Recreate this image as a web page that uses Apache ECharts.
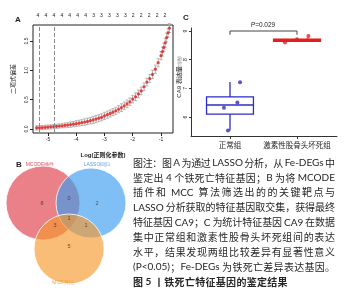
<!DOCTYPE html>
<html>
<head>
<meta charset="utf-8">
<script src="https://cdn.jsdelivr.net/npm/echarts@6/dist/echarts.min.js"></script>
<style>
html,body{margin:0;padding:0;background:#fff}
#main{width:360px;height:300px}
</style>
</head>
<body>
<div id="main"></div>
<script>
// ---- A: LASSO curve ----
var logLambda = [-5.4,-5.3,-5.2,-5.1,-5.0,-4.9,-4.8,-4.7,-4.6,-4.5,
  -4.4,-4.3,-4.2,-4.1,-4.0,-3.9,-3.8,-3.7,-3.6,-3.5,
  -3.4,-3.3,-3.2,-3.1,-3.0,-2.9,-2.8,-2.7,-2.6,-2.5,
  -2.4,-2.3,-2.2,-2.1,-2.0,-1.9,-1.8,-1.7,-1.6,-1.5,
  -1.4,-1.3,-1.2,-1.1,-1.0,-0.95,-0.9,-0.85,-0.8,-0.75,-0.7];
var deviance = [0.020,0.022,0.025,0.029,0.033,0.037,0.041,0.046,0.051,0.056,
  0.062,0.068,0.075,0.083,0.091,0.100,0.109,0.119,0.130,0.142,
  0.155,0.169,0.184,0.200,0.225,0.245,0.265,0.287,0.311,0.337,
  0.365,0.395,0.428,0.464,0.510,0.550,0.598,0.650,0.720,0.800,
  0.860,0.930,1.020,1.130,1.250,1.320,1.390,1.470,1.560,1.640,1.720];
var devianceErr = [0.035,0.035,0.035,0.035,0.035,0.035,0.035,0.035,0.035,0.035,
  0.040,0.040,0.045,0.045,0.050,0.050,0.050,0.055,0.055,0.055,
  0.060,0.060,0.060,0.060,0.060,0.060,0.060,0.060,0.060,0.060,
  0.065,0.065,0.065,0.065,0.065,0.065,0.065,0.065,0.065,0.065,
  0.070,0.070,0.070,0.070,0.070,0.075,0.075,0.075,0.075,0.075,0.075];
var lambdaMarks = [-5.32, -4.79];
var topCounts = ['4','4','4','4','4','4','4','3','3','3','3','3','2','2','2','2','2'];
var xTicksA = [-5, -4, -3, -2, -1];
var yTicksA = [0, 0.5, 1, 1.5];

// ---- C: CA9 expression ----
var groups = ['正常组', '激素性股骨头坏死组'];
var normalValues = [7.21, 6.51, 6.32, 5.53];
var normalJitter = [0.15, 0.11, -0.09, -0.03];
var gcValues = [8.60, 8.71, 8.69, 8.83];
var gcJitter = [-0.18, 0.0, 0.16, 0.17];
var boxStats = [[5.53, 6.10, 6.42, 6.70, 7.22], [8.62, 8.64, 8.68, 8.72, 8.74]];
var yTicksC = [6, 7, 8, 9];
var bracketY = [8.87, 9.0];
var pLabel = '0.029';

// ---- B: Venn ----
var vennSets = ['MCODE插件', 'LASSO回归', 'MCC算法'];
// red only, red&blue, blue only, all three, red&orange, blue&orange, orange only
var vennCounts = [8, 0, 2, 1, 3, 1, 5];

var captionLines = [
  '图注：图 A 为通过 LASSO 分析，从 Fe-DEGs 中',
  '鉴定出 4 个铁死亡特征基因；B 为将 MCODE',
  '插件和 MCC 算法筛选出的的关键靶点与',
  'LASSO 分析获取的特征基因取交集，获得最终',
  '特征基因 CA9；C 为统计特征基因 CA9 在数据',
  '集中正常组和激素性股骨头坏死组间的表达',
  '水平，结果发现两组比较差异有显著性意义',
  '(P<0.05)；Fe-DEGs 为铁死亡差异表达基因。'
];
var captionTitle = '图 5 丨铁死亡特征基因的鉴定结果';

// layout
var vennCircles = [[43, 53, 37], [91, 53, 35], [69, 99, 35]];
var vennFill = ['rgba(223,60,72,0.65)', 'rgba(60,157,240,0.65)', 'rgba(246,154,48,0.65)'];
var vennText = ['#d9535f', '#5a9fe0', '#e8a040'];
var vennCountPos = [[42, 53], [69, 48], [97, 53], [69, 68], [55, 75], [86, 75], [69, 96]];
var boxColors = ['#2d2dc4', '#e21f1f'];
var captionLeft = 133, captionRight = 335;

var measure = document.createElement('canvas').getContext('2d');
var latinRe = /^[A-Za-z0-9.\-()<=]+$/;
function captionRow(text, y, justify, bold) {
  var toks = text.match(/[A-Za-z0-9.\-()<=]+|\s+|[^\sA-Za-z0-9.\-()<=]/g);
  var weight = bold ? 'bold' : 'normal';
  var items = toks.map(function (t) {
    if (/^\s+$/.test(t)) return { space: true, w: 2 };
    var fam = latinRe.test(t) ? 'Lato' : 'Noto Sans CJK SC';
    measure.font = weight + ' 10px "' + fam + '"';
    return { text: t, fam: fam, w: measure.measureText(t).width };
  });
  var total = 0;
  items.forEach(function (it) { total += it.w; });
  var gap = justify ? (captionRight - captionLeft - total) / (items.length - 1) : 0.3;
  var x = captionLeft, els = [];
  items.forEach(function (it) {
    if (!it.space) {
      els.push({ type: 'text', x: x, y: y, silent: true,
        style: { text: it.text, fontSize: 10, fontFamily: it.fam, fontWeight: weight,
          fill: '#262626', verticalAlign: 'middle' } });
    }
    x += it.w + gap;
  });
  return els;
}

var graphics = [
  { type: 'text', x: 15, y: 20, style: { text: 'A', fontSize: 8, fontWeight: 'bold', fill: '#222', verticalAlign: 'middle' } },
  { type: 'text', x: 16, y: 165, style: { text: 'B', fontSize: 8, fontWeight: 'bold', fill: '#222', verticalAlign: 'middle' } },
  { type: 'text', x: 183, y: 18, style: { text: 'C', fontSize: 8, fontWeight: 'bold', fill: '#222', verticalAlign: 'middle' } },
  { type: 'text', x: 263, y: 25.5, style: { rich: { i: { fontStyle: 'italic', fontSize: 6.5, fill: '#222' }, n: { fontSize: 6.5, fill: '#222' } },
      text: '{i|P}{n|=' + pLabel + '}', align: 'center', verticalAlign: 'middle' } },
  { type: 'text', x: 179, y: 68, rotation: -Math.PI / 2, style: { text: '偏似然偏差', fontSize: 5, fill: '#999', align: 'center', verticalAlign: 'middle' } },
  { type: 'text', x: 40, y: 165, style: { text: vennSets[0], fontSize: 5, fill: vennText[0], align: 'center', verticalAlign: 'middle' } },
  { type: 'text', x: 97, y: 165, style: { text: vennSets[1], fontSize: 5, fill: vennText[1], align: 'center', verticalAlign: 'middle' } },
  { type: 'text', x: 63, y: 283, style: { text: vennSets[2], fontSize: 5, fill: vennText[2], align: 'center', verticalAlign: 'middle' } }
];
for (var i = 0; i < captionLines.length; i++) {
  graphics = graphics.concat(captionRow(captionLines[i], 163 + i * 14.85, i < captionLines.length - 1, false));
}
graphics = graphics.concat(captionRow(captionTitle, 163 + 8 * 14.85, false, true));

var curveData = [], errData = [];
for (var k = 0; k < logLambda.length; k++) {
  curveData.push([logLambda[k], deviance[k]]);
  errData.push([logLambda[k], deviance[k] - devianceErr[k], deviance[k] + devianceErr[k]]);
}
var normalPts = normalValues.map(function (v, j) { return [0 + normalJitter[j], v]; });
var gcPts = gcValues.map(function (v, j) { return [1 + gcJitter[j], v]; });
var boxData = boxStats.map(function (s, j) { return [j].concat(s); });
var bracketData = [[0, bracketY[0]], [0, bracketY[1]], [1, bracketY[1]], [1, bracketY[0]]];
var vennCountData = vennCountPos.map(function (p, j) { return [p[0], p[1], vennCounts[j]]; });

var myChart = echarts.init(document.getElementById('main'));
var option = {
  animation: false,
  textStyle: { fontFamily: 'Liberation Sans, Noto Sans CJK SC' },
  grid: [
    { left: 33, top: 25, width: 140, height: 108, show: true, borderColor: '#222', borderWidth: 1, backgroundColor: 'transparent' },
    { left: 38, top: 25, width: 127, height: 108 },
    { left: 191, top: 28, width: 146, height: 108 },
    { left: 0, top: 150, width: 140, height: 140 }
  ],
  xAxis: [
    { type: 'value', gridIndex: 0, min: -5.53, max: -0.575, splitLine: { show: false },
      axisLine: { show: false, onZero: false },
      axisTick: { show: true, length: 3, customValues: xTicksA, lineStyle: { color: '#222' } },
      axisLabel: { customValues: xTicksA, fontSize: 5, margin: 4, color: '#222' },
      name: 'Log(正则化参数)', nameLocation: 'middle', nameGap: 19,
      nameTextStyle: { fontSize: 6, fontWeight: 'bold', color: '#222' } },
    { type: 'category', gridIndex: 1, position: 'top', data: topCounts, boundaryGap: false,
      axisLine: { show: false }, axisTick: { show: false },
      axisLabel: { interval: 0, fontSize: 5, margin: 7, color: '#222' } },
    { type: 'value', gridIndex: 2, min: -0.582, max: 1.597, splitLine: { show: false },
      axisLine: { show: true, onZero: false, lineStyle: { color: '#333', width: 1 } },
      axisTick: { show: true, length: 3, customValues: [0, 1], lineStyle: { color: '#333' } },
      axisLabel: { customValues: [0, 1], fontSize: 7.5, margin: 5, color: '#222', fontFamily: 'Noto Sans CJK SC',
        formatter: function (v) { return groups[Math.round(v)]; } } },
    { type: 'value', gridIndex: 3, min: 0, max: 140, show: false }
  ],
  yAxis: [
    { type: 'value', gridIndex: 0, min: -0.068, max: 1.773, splitLine: { show: false },
      axisLine: { show: false, onZero: false },
      axisTick: { show: true, length: 3, customValues: yTicksA, lineStyle: { color: '#222' } },
      axisLabel: { customValues: yTicksA, rotate: 90, fontSize: 5, margin: 4, color: '#222',
        formatter: function (v) { return v.toFixed(1); } },
      name: '二项式偏差', nameLocation: 'middle', nameGap: 17,
      nameTextStyle: { fontSize: 6, color: '#222' } },
    { type: 'value', gridIndex: 1, show: false },
    { type: 'value', gridIndex: 2, min: 5.338, max: 9.105, splitLine: { show: false },
      axisLine: { show: true, onZero: false, lineStyle: { color: '#333', width: 1 } },
      axisTick: { show: true, length: 2, customValues: yTicksC, lineStyle: { color: '#333' } },
      axisLabel: { customValues: yTicksC, rotate: 90, fontSize: 5, margin: 3, color: '#222' },
      name: 'CA9 表达量', nameLocation: 'middle', nameGap: 8,
      nameTextStyle: { fontSize: 6, color: '#222' } },
    { type: 'value', gridIndex: 3, min: 0, max: 140, inverse: true, show: false }
  ],
  series: [
    { type: 'custom', xAxisIndex: 0, yAxisIndex: 0, data: errData, silent: true,
      renderItem: function (params, api) {
        var x = api.value(0);
        var lo = api.coord([x, api.value(1)]);
        var hi = api.coord([x, api.value(2)]);
        var st = { stroke: '#b3b3b3', lineWidth: 1 };
        return { type: 'group', children: [
          { type: 'line', shape: { x1: lo[0], y1: lo[1], x2: hi[0], y2: hi[1] }, style: st },
          { type: 'line', shape: { x1: lo[0] - 1.5, y1: lo[1], x2: lo[0] + 1.5, y2: lo[1] }, style: st },
          { type: 'line', shape: { x1: hi[0] - 1.5, y1: hi[1], x2: hi[0] + 1.5, y2: hi[1] }, style: st }
        ] };
      } },
    { type: 'scatter', xAxisIndex: 0, yAxisIndex: 0, data: curveData, symbolSize: 3.2,
      itemStyle: { color: '#df1b1b' }, silent: true,
      markLine: { silent: true, symbol: 'none', label: { show: false },
        lineStyle: { type: 'dashed', color: '#8c8c8c', width: 1 },
        data: lambdaMarks.map(function (m) { return { xAxis: m }; }) } },
    { type: 'custom', xAxisIndex: 2, yAxisIndex: 2, data: boxData, silent: true,
      renderItem: function (params, api) {
        var x = api.value(0);
        var w = api.size([0.7, 0])[0];
        var lo = api.coord([x, api.value(1)]);
        var q1 = api.coord([x, api.value(2)]);
        var md = api.coord([x, api.value(3)]);
        var q3 = api.coord([x, api.value(4)]);
        var hi = api.coord([x, api.value(5)]);
        var col = boxColors[params.dataIndex];
        var st = { stroke: col, lineWidth: 1.3, fill: null };
        return { type: 'group', children: [
          { type: 'line', shape: { x1: hi[0], y1: hi[1], x2: q3[0], y2: q3[1] }, style: st },
          { type: 'line', shape: { x1: q1[0], y1: q1[1], x2: lo[0], y2: lo[1] }, style: st },
          { type: 'rect', shape: { x: md[0] - w / 2, y: q3[1], width: w, height: q1[1] - q3[1] },
            style: { stroke: col, lineWidth: 1.3, fill: params.dataIndex === 1 ? col : 'rgba(255,255,255,0)' } },
          { type: 'line', shape: { x1: md[0] - w / 2, y1: md[1], x2: md[0] + w / 2, y2: md[1] }, style: st }
        ] };
      } },
    { type: 'scatter', xAxisIndex: 2, yAxisIndex: 2, data: normalPts, symbolSize: 4,
      itemStyle: { color: boxColors[0] }, silent: true },
    { type: 'scatter', xAxisIndex: 2, yAxisIndex: 2, data: gcPts, symbolSize: 4,
      itemStyle: { color: boxColors[1] }, silent: true },
    { type: 'line', xAxisIndex: 2, yAxisIndex: 2, data: bracketData, symbol: 'none', silent: true,
      lineStyle: { color: '#444', width: 1 } },
    { type: 'custom', xAxisIndex: 3, yAxisIndex: 3, data: vennCircles, silent: true,
      renderItem: function (params, api) {
        var c = api.coord([api.value(0), api.value(1)]);
        var r = api.size([api.value(2), 0])[0];
        return { type: 'circle', shape: { cx: c[0], cy: c[1], r: r },
          style: { fill: vennFill[params.dataIndex], stroke: 'rgba(255,255,255,0.8)', lineWidth: 1 } };
      } },
    { type: 'scatter', xAxisIndex: 3, yAxisIndex: 3, data: vennCountData, symbolSize: 1, silent: true,
      itemStyle: { color: 'rgba(0,0,0,0)' },
      label: { show: true, position: 'inside', fontSize: 5.5, color: '#333',
        formatter: function (p) { return p.value[2]; } } }
  ],
  graphic: graphics
};
myChart.setOption(option);
</script>
</body>
</html>
